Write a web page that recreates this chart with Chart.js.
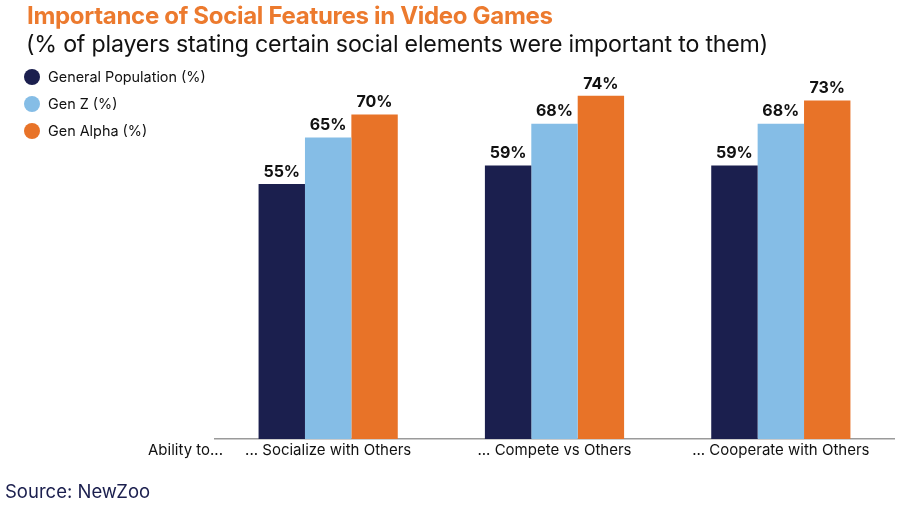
<!DOCTYPE html>
<html>
<head>
<meta charset="utf-8">
<script src="https://cdn.jsdelivr.net/npm/chart.js@4"></script>
<style>
  html, body { margin: 0; padding: 0; background: #fff; }
  #wrap { position: relative; width: 900px; height: 511px; font-family: Inter, "Noto Sans", sans-serif; }
  #chart { position: absolute; left: 0; top: 0; }
  .title { position: absolute; left: 27px; top: 1px; font-size: 24px; font-weight: 700; color: #ec7a2e; letter-spacing: -0.3px; white-space: nowrap; }
  .sub { position: absolute; left: 26px; top: 30px; font-size: 23.2px; color: #111; letter-spacing: -0.2px; white-space: nowrap; }
  .legend { position: absolute; left: 24px; top: 66px; font-size: 14.4px; color: #111; }
  .legend div { height: 27px; line-height: 22px; white-space: nowrap; }
  .legend span.dot { display: inline-block; width: 16px; height: 16px; border-radius: 50%; vertical-align: -3px; margin-right: 8px; }
  .source { position: absolute; left: 5px; top: 480px; font-size: 18.5px; color: #1b1f4e; white-space: nowrap; }
</style>
</head>
<body>
<div id="wrap">
  <canvas id="chart" width="900" height="511"></canvas>
  <div class="title">Importance of Social Features in Video Games</div>
  <div class="sub">(% of players stating certain social elements were important to them)</div>
  <div class="legend" id="legend"></div>
  <div class="source">Source: NewZoo</div>
</div>
<script>
// data
var categories = ['... Socialize with Others', '... Compete vs Others', '... Cooperate with Others'];
var seriesNames = ['General Population (%)', 'Gen Z (%)', 'Gen Alpha (%)'];
var generalPop = [55, 59, 59];
var genZ = [65, 68, 68];
var genAlpha = [70, 74, 73];
var colors = ['#1b1f4e', '#85bde6', '#e87328'];

// html legend
var legendEl = document.getElementById('legend');
seriesNames.forEach(function(name, i) {
    var row = document.createElement('div');
    row.innerHTML = '<span class="dot" style="background:' + colors[i] + '"></span>' + name;
    legendEl.appendChild(row);
});

// draws the % value above each bar, plus the "Ability to..." axis caption
var barLabels = {
    id: 'barLabels',
    afterDatasetsDraw: function(chart) {
        var ctx = chart.ctx;
        ctx.save();
        ctx.font = 'bold 16px Inter, "Noto Sans", sans-serif';
        ctx.fillStyle = '#111';
        ctx.textAlign = 'center';
        ctx.textBaseline = 'bottom';
        chart.data.datasets.forEach(function(ds, i) {
            chart.getDatasetMeta(i).data.forEach(function(bar, j) {
                ctx.fillText(ds.data[j] + '%', bar.x, bar.y - 4);
            });
        });
        var xs = chart.scales.x;
        ctx.font = '15px Inter, "Noto Sans", sans-serif';
        ctx.textAlign = 'right';
        ctx.textBaseline = 'middle';
        ctx.fillText('Ability to...', xs.left + 8, xs.top + 11);
        ctx.restore();
    }
};

new Chart(document.getElementById('chart').getContext('2d'), {
    type: 'bar',
    data: {
        labels: categories,
        datasets: [
            { label: seriesNames[0], data: generalPop, backgroundColor: colors[0] },
            { label: seriesNames[1], data: genZ, backgroundColor: colors[1] },
            { label: seriesNames[2], data: genAlpha, backgroundColor: colors[2] }
        ]
    },
    options: {
        responsive: false,
        animation: false,
        layout: { padding: { left: 215, right: 6, top: 68, bottom: 42 } },
        plugins: { legend: { display: false }, tooltip: { enabled: false } },
        datasets: { bar: { categoryPercentage: 0.615, barPercentage: 1.0, borderWidth: 0 } },
        scales: {
            x: {
                grid: { display: false, drawTicks: false },
                border: { color: '#9a9a9a', width: 1.5 },
                ticks: { color: '#111', font: { size: 15, family: 'Inter, "Noto Sans", sans-serif' }, padding: 2, maxRotation: 0 },
                afterFit: function(scale) { scale.height = 30; }
            },
            y: { display: false, min: 0, max: 80 }
        }
    },
    plugins: [barLabels]
});
</script>
</body>
</html>
